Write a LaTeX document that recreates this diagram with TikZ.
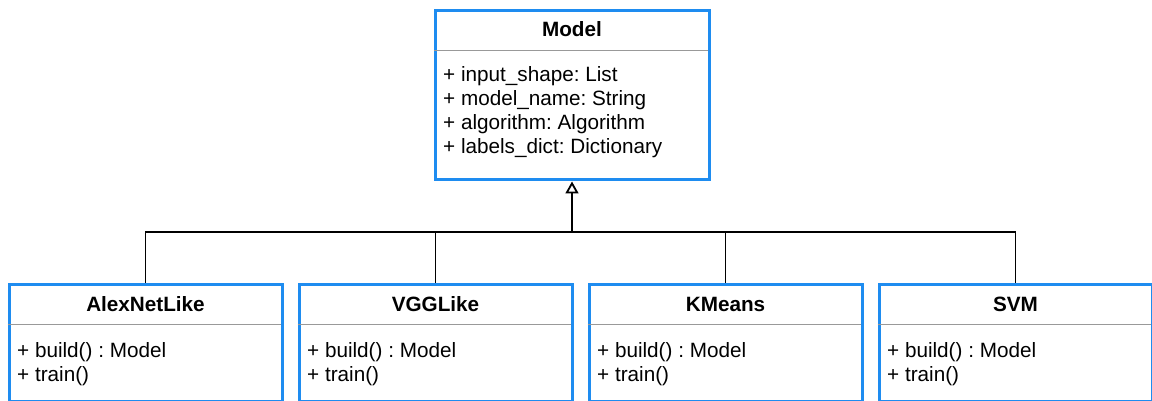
\documentclass[tikz,border=0pt]{standalone}
\usepackage{fontspec}
\setmainfont{Liberation Sans}
\usepackage{xcolor}
\usepackage{tikz}
\usetikzlibrary{arrows.meta,positioning}
\definecolor{umlblue}{RGB}{30,140,240}
\definecolor{sepgray}{RGB}{153,153,153}
\frenchspacing
\tikzset{
	umlbox/.style = {
			draw            = umlblue,
			line width      = 3pt,
			fill            = white,
			inner sep       = 0pt,
			minimum width   = 273pt,
			minimum height  = 117pt,
		},
	titletext/.style = {
			anchor    = base,
			inner sep = 0pt,
			font      = \fontsize{20.7}{24}\selectfont\bfseries,
		},
	membertext/.style = {
			anchor    = base west,
			inner sep = 0pt,
			font      = \fontsize{20.7}{24}\selectfont,
		},
	sepline/.style = {draw=sepgray, line width=1.4pt},
	inherit/.style = {
			draw       = black,
			line width = 1.8pt,
			-{Triangle[open, length=12pt, width=13pt]},
		},
	link/.style = {draw=black, line width=1.8pt},
}

\begin{document}
\begin{tikzpicture}[x=1pt, y=-1pt]
	\useasboundingbox (0,0) rectangle (1152,401);
	% super class
	\node[umlbox, minimum width=274pt, minimum height=169pt] (model) at (572,95.5) {};
	\node[titletext] (model-title) at (572,37) {Model};
	\draw[sepline] (model.north west) ++(0,41) -- ++(274,0);
	\node[membertext] (model-attrs) at (443,82) {\begin{tabular}[t]{@{}l@{}}
			+ input\_shape: List\\
			+ model\_name: String\\
			+ algorithm: Algorithm\\
			+ labels\_dict: Dictionary
		\end{tabular}};
	\coordinate (bus) at (572,232);
	% sub classes
	\foreach \name/\i in {AlexNetLike/0, VGGLike/1, KMeans/2, SVM/3}{
			\node[umlbox] (sub\i) at ({145.5+290*\i},342.5) {};
			\node[titletext] (sub\i-title) at ({145.5+290*\i},311) {\name};
			\draw[sepline] (sub\i.north west) ++(0,42) -- ++(273,0);
			\node[membertext] (sub\i-ops) at ({17+290*\i},357) {\begin{tabular}[t]{@{}l@{}}
					+ build() : Model\\
					+ train()
				\end{tabular}};
			\draw[link] (sub\i.north) |- (bus);
		}
	\draw[inherit] (bus) -- (model.south);
\end{tikzpicture}
\end{document}
